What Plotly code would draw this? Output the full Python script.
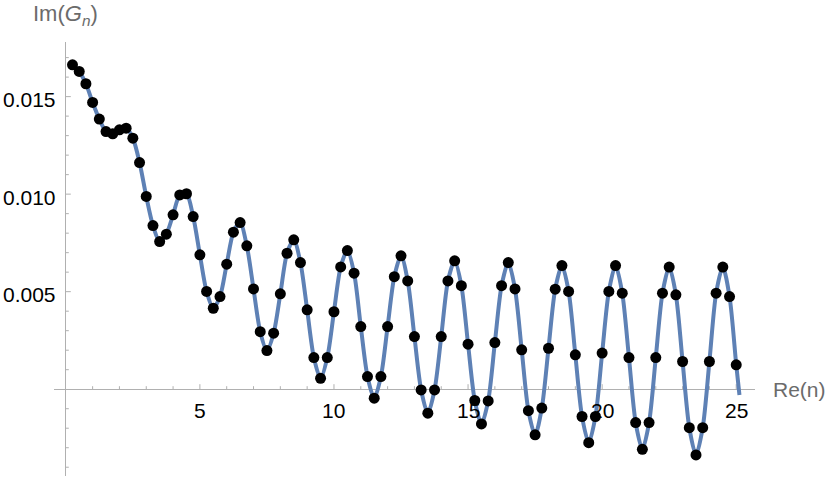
import plotly.graph_objects as go

# sample positions Re(n)
re_n = [0.25, 0.5, 0.75, 1.0, 1.25, 1.5, 1.75, 2.0, 2.25, 2.5,
        2.75, 3.0, 3.25, 3.5, 3.75, 4.0, 4.25, 4.5, 4.75, 5.0,
        5.25, 5.5, 5.75, 6.0, 6.25, 6.5, 6.75, 7.0, 7.25, 7.5,
        7.75, 8.0, 8.25, 8.5, 8.75, 9.0, 9.25, 9.5, 9.75, 10.0,
        10.25, 10.5, 10.75, 11.0, 11.25, 11.5, 11.75, 12.0, 12.25, 12.5,
        12.75, 13.0, 13.25, 13.5, 13.75, 14.0, 14.25, 14.5, 14.75, 15.0,
        15.25, 15.5, 15.75, 16.0, 16.25, 16.5, 16.75, 17.0, 17.25, 17.5,
        17.75, 18.0, 18.25, 18.5, 18.75, 19.0, 19.25, 19.5, 19.75, 20.0,
        20.25, 20.5, 20.75, 21.0, 21.25, 21.5, 21.75, 22.0, 22.25, 22.5,
        22.75, 23.0, 23.25, 23.5, 23.75, 24.0, 24.25, 24.5, 24.75, 25.0]

# Im(G_n), in units of 1e-3
im_g = [16.63, 16.29, 15.66, 14.70, 13.85, 13.21, 13.09, 13.30, 13.38, 12.87,
        11.62, 9.88, 8.39, 7.57, 7.95, 8.94, 9.96, 10.02, 8.85, 6.89,
        5.01, 4.15, 4.75, 6.41, 8.05, 8.54, 7.35, 5.14, 2.95, 1.98,
        2.87, 4.89, 6.97, 7.66, 6.49, 4.07, 1.62, 0.56, 1.62, 3.97,
        6.27, 7.11, 5.95, 3.21, 0.65, -0.46, 0.65, 3.21, 5.77, 6.84,
        5.55, 2.70, -0.04, -1.23, -0.04, 2.70, 5.55, 6.58, 5.31, 2.31,
        -0.58, -1.78, -0.60, 2.39, 5.31, 6.49, 5.14, 2.02, -1.10, -2.34,
        -0.97, 2.10, 5.13, 6.34, 5.01, 1.76, -1.40, -2.74, -1.40, 1.85,
        5.01, 6.34, 4.92, 1.62, -1.71, -3.08, -1.71, 1.62, 4.92, 6.26,
        4.84, 1.42, -1.97, -3.37, -1.97, 1.42, 4.92, 6.26, 4.75, 1.25]
im_g = [v / 1000 for v in im_g]

# the curve runs a little past the last sample
tail_x = [25.12]
tail_y = [-0.0003]

x_major = [5, 10, 15, 20, 25]
x_minor = [1, 2, 3, 4, 6, 7, 8, 9, 11, 12, 13, 14, 16, 17, 18, 19, 21, 22, 23, 24]
y_major = [0.005, 0.010, 0.015]
y_major_labels = ["0.005", "0.010", "0.015"]
y_minor = [-0.004, -0.003, -0.002, -0.001, 0.001, 0.002, 0.003, 0.004,
           0.006, 0.007, 0.008, 0.009, 0.011, 0.012, 0.013, 0.014, 0.016, 0.017]

FONT = "Liberation Sans, Arial, sans-serif"
AXIS = "#b0b0b0"
LABEL_GRAY = "#6b6b6b"

fig = go.Figure()
fig.add_trace(go.Scatter(x=re_n + tail_x, y=im_g + tail_y, mode="lines",
                         line=dict(color="#5E81B5", width=4, shape="spline", smoothing=0.8),
                         hoverinfo="skip"))
fig.add_trace(go.Scatter(x=re_n, y=im_g, mode="markers",
                         marker=dict(color="black", size=11)))

shapes = []
for t in x_major + x_minor:
    ln = 5 if t in x_major else 3
    shapes.append(dict(type="line", xref="x", yref="y", ysizemode="pixel", yanchor=0,
                       x0=t, x1=t, y0=0, y1=ln, line=dict(color=AXIS, width=1), layer="below"))
for t in y_major + y_minor:
    ln = 5 if t in y_major else 3
    shapes.append(dict(type="line", xref="x", yref="y", xsizemode="pixel", xanchor=0,
                       x0=0, x1=ln, y0=t, y1=t, line=dict(color=AXIS, width=1), layer="below"))

annotations = []
for t in x_major:
    annotations.append(dict(x=t, y=0, xref="x", yref="y", text=str(t), showarrow=False,
                            yshift=-21, font=dict(family=FONT, size=21, color="black")))
for t, lab in zip(y_major, y_major_labels):
    annotations.append(dict(x=0, y=t, xref="x", yref="y", text=lab, showarrow=False,
                            xanchor="right", xshift=-8, yshift=-3,
                            font=dict(family=FONT, size=21, color="black")))
annotations.append(dict(x=1, y=0, xref="paper", yref="y", text="Re(n)", showarrow=False,
                        xanchor="left", xshift=16,
                        font=dict(family=FONT, size=21, color=LABEL_GRAY)))
annotations.append(dict(x=0, y=1, xref="x", yref="paper", text="Im(<i>G</i><sub><i>n</i></sub>)",
                        showarrow=False, xanchor="center", yanchor="middle", yshift=27,
                        font=dict(family=FONT, size=22, color=LABEL_GRAY)))

fig.update_layout(
    width=830, height=480,
    margin=dict(l=54, r=75, t=42, b=4),
    paper_bgcolor="white", plot_bgcolor="white",
    showlegend=False,
    shapes=shapes, annotations=annotations,
    xaxis=dict(range=[-0.44, 25.7], showgrid=False, showticklabels=False, ticks="",
               showline=False, zeroline=True, zerolinecolor=AXIS, zerolinewidth=1),
    yaxis=dict(range=[-0.00445, 0.0178], showgrid=False, showticklabels=False, ticks="",
               showline=False, zeroline=True, zerolinecolor=AXIS, zerolinewidth=1),
)

fig.write_html("out.html", config={"displayModeBar": False},
               post_script="document.body.style.margin='0';")
